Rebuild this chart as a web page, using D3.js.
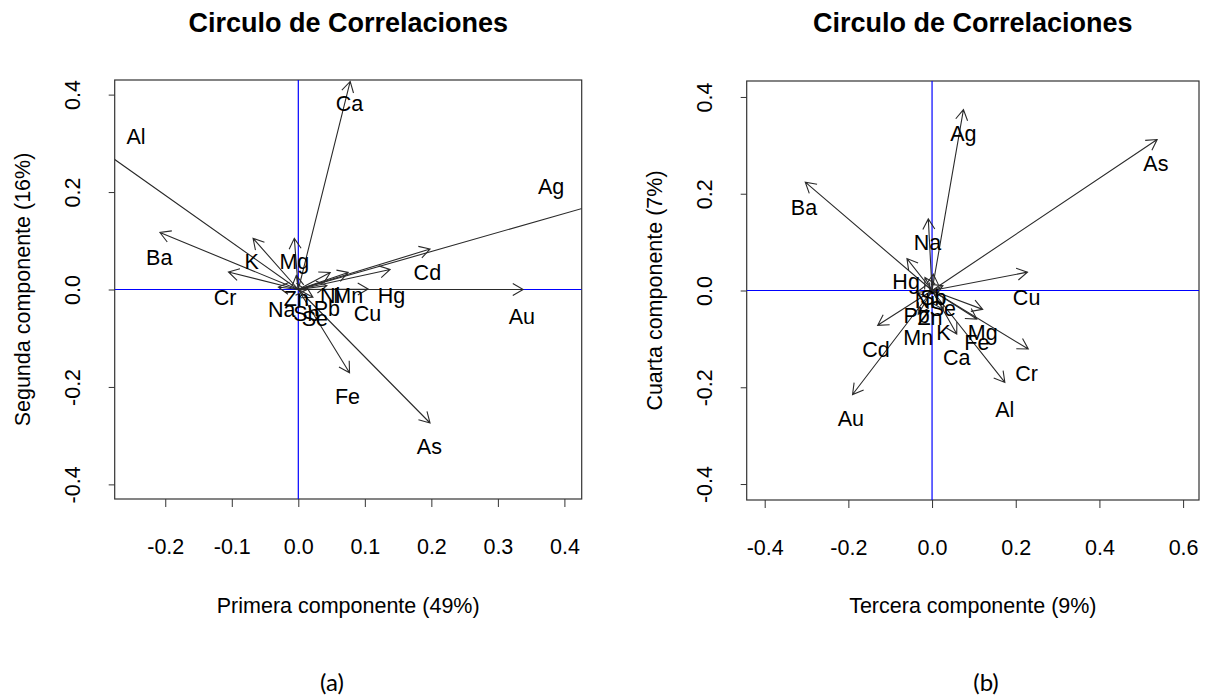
<!DOCTYPE html>
<html><head><meta charset="utf-8">
<script src="https://cdn.jsdelivr.net/npm/d3@7"></script>
<style>body{margin:0;background:#fff} svg{display:block}</style>
</head><body>
<svg id="c" width="1212" height="698"></svg>
<script>
// ---------- Data: panel (a)  PC1 vs PC2 ----------
const namesA = ["Ca","Al","Ag","Ba","K","Mg","Cr","Cd","Hg","Au","Cu","Mn","Ni","Fe","As","Pb","Na","Se","Sb","Zn"];
const tipXA  = [0.078,-0.36,0.50,-0.208,-0.068,-0.006,-0.105,0.198,0.138,0.338,0.105,0.075,0.048,0.077,0.198,0.043,-0.030,0.022,0.012,-0.003];
const tipYA  = [0.427,0.348,0.195,0.117,0.105,0.105,0.036,0.083,0.041,0.000,0.001,0.035,0.035,-0.171,-0.274,0.008,0.005,-0.016,-0.001,0.029];
const labXA  = [0.077,-0.244,0.380,-0.209,-0.070,-0.006,-0.110,0.194,0.140,0.336,0.104,0.075,0.048,0.074,0.197,0.043,-0.025,0.025,0.012,-0.003];
const labYA  = [0.382,0.314,0.212,0.066,0.057,0.057,-0.016,0.035,-0.012,-0.056,-0.049,-0.012,-0.012,-0.220,-0.323,-0.039,-0.042,-0.059,-0.049,-0.018];
const xTicksA = [-0.2,-0.1,0.0,0.1,0.2,0.3,0.4];
const yTicksA = [-0.4,-0.2,0.0,0.2,0.4];

// ---------- Data: panel (b)  PC3 vs PC4 ----------
const namesB = ["Ag","As","Ba","Na","Hg","Cu","Cd","Au","Cr","Al","Mg","Fe","Ca","K","Mn","Pb","Zn","Se","Ni","Sb"];
const tipXB  = [0.075,0.538,-0.303,-0.009,-0.060,0.228,-0.130,-0.190,0.230,0.174,0.121,0.107,0.059,0.027,-0.033,-0.037,-0.005,0.026,-0.017,0.003];
const tipYB  = [0.374,0.312,0.224,0.148,0.066,0.038,-0.072,-0.215,-0.121,-0.190,-0.039,-0.059,-0.090,-0.039,-0.049,-0.004,-0.008,0.010,0.027,0.034];
const labXB  = [0.075,0.535,-0.306,-0.011,-0.062,0.226,-0.134,-0.194,0.226,0.174,0.121,0.107,0.059,0.027,-0.033,-0.037,-0.005,0.026,-0.017,0.003];
const labYB  = [0.324,0.262,0.172,0.100,0.019,-0.014,-0.121,-0.265,-0.172,-0.245,-0.086,-0.107,-0.138,-0.086,-0.097,-0.052,-0.056,-0.038,-0.021,-0.014];
const xTicksB = [-0.4,-0.2,0.0,0.2,0.4,0.6];
const yTicksB = [-0.4,-0.2,0.0,0.2,0.4];

const titleText = "Circulo de Correlaciones";

const svg = d3.select("#c");
const FONT = "'Liberation Sans', Arial, sans-serif";
const FS = 21.5;

function panel(cfg, id) {
  const x = d3.scaleLinear().domain(cfg.xDom).range([cfg.left, cfg.right]);
  const y = d3.scaleLinear().domain(cfg.yDom).range([cfg.bottom, cfg.top]);
  const g = svg.append("g");

  g.append("clipPath").attr("id", "clip" + id)
    .append("rect").attr("x", cfg.left).attr("y", cfg.top)
    .attr("width", cfg.right - cfg.left).attr("height", cfg.bottom - cfg.top);

  // axes
  const fmt = d => d.toFixed(1);
  const xa = g.append("g").attr("transform", `translate(0,${cfg.bottom})`)
    .call(d3.axisBottom(x).tickValues(cfg.xTicks).tickFormat(fmt).tickSize(8));
  const ya = g.append("g").attr("transform", `translate(${cfg.left},0)`)
    .call(d3.axisLeft(y).tickValues(cfg.yTicks).tickFormat(fmt).tickSize(6));
  [xa, ya].forEach(a => {
    a.select(".domain").remove();
    a.selectAll("line").attr("stroke", "#333");
    a.selectAll("text").attr("font-family", FONT).attr("font-size", FS).attr("fill", "#000");
  });
  xa.selectAll("text").attr("y", 47).attr("dy", "0.35em");
  ya.selectAll("text").attr("x", null).attr("dy", "0.35em").attr("text-anchor", "middle")
    .attr("transform", "translate(-42,0) rotate(-90)");

  // box
  g.append("rect").attr("x", cfg.left).attr("y", cfg.top)
    .attr("width", cfg.right - cfg.left).attr("height", cfg.bottom - cfg.top)
    .attr("fill", "none").attr("stroke", "#333").attr("stroke-width", 1.2);

  const inner = g.append("g").attr("clip-path", `url(#clip${id})`);
  // blue reference lines
  inner.append("line").attr("x1", cfg.left).attr("x2", cfg.right).attr("y1", y(0)).attr("y2", y(0))
    .attr("stroke", "#0000ff").attr("stroke-width", 1.2);
  inner.append("line").attr("x1", x(0)).attr("x2", x(0)).attr("y1", cfg.top).attr("y2", cfg.bottom)
    .attr("stroke", "#0000ff").attr("stroke-width", 1.2);

  const data = cfg.names.map((n, i) => ({n, tx: cfg.tipX[i], ty: cfg.tipY[i], lx: cfg.labX[i], ly: cfg.labY[i]}));
  const HL = 12, ANG = Math.PI / 6;
  const path = d => {
    const x0 = x(0), y0 = y(0), x1 = x(d.tx), y1 = y(d.ty);
    const a = Math.atan2(y1 - y0, x1 - x0);
    const p = d3.path();
    p.moveTo(x0, y0); p.lineTo(x1, y1);
    p.moveTo(x1 - HL * Math.cos(a - ANG), y1 - HL * Math.sin(a - ANG));
    p.lineTo(x1, y1);
    p.lineTo(x1 - HL * Math.cos(a + ANG), y1 - HL * Math.sin(a + ANG));
    return p.toString();
  };
  inner.selectAll("path.arrow").data(data).join("path").attr("class", "arrow")
    .attr("d", path).attr("fill", "none").attr("stroke", "#2a2a2a").attr("stroke-width", 1.1);
  inner.selectAll("text.lab").data(data).join("text").attr("class", "lab")
    .attr("x", d => x(d.lx)).attr("y", d => y(d.ly)).attr("dy", "0.35em")
    .attr("text-anchor", "middle").attr("font-family", FONT).attr("font-size", FS)
    .attr("fill", "#000").text(d => d.n);

  // titles
  const cx = (cfg.left + cfg.right) / 2, cy = (cfg.top + cfg.bottom) / 2;
  g.append("text").attr("x", cx).attr("y", 23).attr("dy", "0.35em").attr("text-anchor", "middle")
    .attr("font-family", FONT).attr("font-weight", "bold").attr("font-size", 27).attr("fill", "#000")
    .text(titleText);
  g.append("text").attr("x", cx).attr("y", 605).attr("dy", "0.35em").attr("text-anchor", "middle")
    .attr("font-family", FONT).attr("font-size", FS).attr("fill", "#000").text(cfg.xlab);
  g.append("text").attr("transform", `translate(${cfg.left - 92},${cy}) rotate(-90)`)
    .attr("dy", "0.35em").attr("text-anchor", "middle")
    .attr("font-family", FONT).attr("font-size", FS).attr("fill", "#000").text(cfg.ylab);
  g.append("text").attr("x", cfg.capX).attr("y", 683).attr("dy", "0.35em").attr("text-anchor", "middle")
    .attr("font-family", "Lato, 'Open Sans', sans-serif").attr("font-size", 24).attr("fill", "#000")
    .text(cfg.cap);
}

panel({left: 114.7, right: 581.7, top: 80, bottom: 499,
  xDom: [-0.276, 0.426], yDom: [-0.43, 0.43], xTicks: xTicksA, yTicks: yTicksA,
  names: namesA, tipX: tipXA, tipY: tipYA, labX: labXA, labY: labYA,
  xlab: "Primera componente (49%)", ylab: "Segunda componente (16%)", cap: "(a)", capX: 332}, "a");

panel({left: 746.7, right: 1199, top: 81, bottom: 500,
  xDom: [-0.443, 0.638], yDom: [-0.433, 0.433], xTicks: xTicksB, yTicks: yTicksB,
  names: namesB, tipX: tipXB, tipY: tipYB, labX: labXB, labY: labYB,
  xlab: "Tercera componente (9%)", ylab: "Cuarta componente (7%)", cap: "(b)", capX: 986}, "b");
</script>
</body></html>
